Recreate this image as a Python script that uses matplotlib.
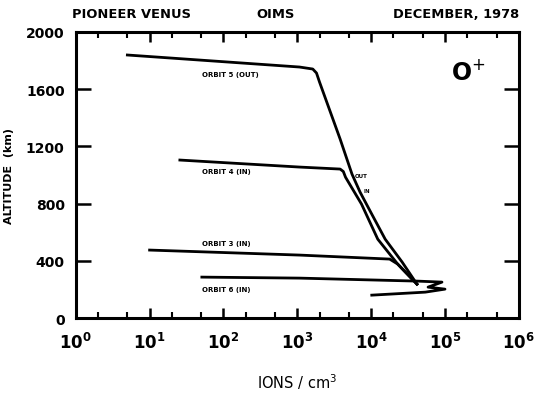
import matplotlib
matplotlib.use("Agg")
import matplotlib.pyplot as plt
import numpy as np
from matplotlib.ticker import FixedLocator, NullFormatter, FuncFormatter

# lectures sur la figure (ions/cm3, km)
orbit5_ions = [5.0, 1070, 1620, 1820, 2000, 3800, 5500, 7080, 1.02e4, 1.55e4, 2.63e4, 4.17e4]
orbit5_alt = [1839, 1755, 1741, 1713, 1650, 1252, 1007, 881, 727, 552, 392, 238]

orbit4_ions = [25.7, 1070, 3800, 4200, 4500, 7410, 1.23e4, 2.29e4, 4.17e4]
orbit4_alt = [1105, 1056, 1042, 1025, 985, 797, 552, 378, 238]

orbit3_ions = [10, 1070, 1.78e4, 2.29e4, 4.17e4]
orbit3_alt = [476, 441, 413, 378, 238]

orbit6_ions = [51, 1070, 4.27e4, 9.1e4, 5.9e4, 1.0e5, 5.4e4, 1.02e4]
orbit6_alt = [287, 280, 259, 252, 217, 203, 182, 161]

x_decades = [0, 1, 2, 3, 4, 5, 6]
y_ticks = [0, 400, 800, 1200, 1600, 2000]

fig = plt.figure(figsize=(5.45, 4.02), dpi=100, facecolor="w")
ax = fig.add_axes([0.139, 0.206, 0.813, 0.712])

for xs, ys in [(orbit5_ions, orbit5_alt), (orbit4_ions, orbit4_alt),
               (orbit3_ions, orbit3_alt), (orbit6_ions, orbit6_alt)]:
    ax.plot(xs, ys, color="k", lw=2, solid_joinstyle="round")

ax.set_xscale("log")
ax.set_xlim(1, 1e6)
ax.set_ylim(0, 2000)

major = [10.0 ** d for d in x_decades]
minor = [m * 10.0 ** d for d in x_decades[:-1] for m in (2, 5)]
ax.xaxis.set_major_locator(FixedLocator(major))
ax.xaxis.set_major_formatter(FuncFormatter(lambda v, p: r"$\mathbf{10^{%d}}$" % round(np.log10(v))))
ax.xaxis.set_minor_locator(FixedLocator(minor))
ax.xaxis.set_minor_formatter(NullFormatter())
ax.yaxis.set_major_locator(FixedLocator(y_ticks))
ax.set_yticklabels([str(v) for v in y_ticks], fontweight="bold", fontsize=10)

ax.tick_params(axis="x", which="major", direction="in", top=True, length=7, width=1.8,
               labelsize=12, pad=10)
ax.tick_params(axis="x", which="minor", direction="in", top=True, length=4, width=1.5)
ax.tick_params(axis="y", which="major", direction="in", right=True, length=11, width=1.8, pad=8)
for s in ax.spines.values():
    s.set_linewidth(2.2)

ax.set_xlabel("IONS / cm$^3$", fontsize=10.5, labelpad=14)
ax.set_ylabel("ALTITUDE  (km)", fontsize=8, fontweight="bold")
ax.yaxis.set_label_coords(-0.14, 0.5)

lbl = dict(fontsize=5, fontweight="bold", va="center")
ax.text(51, 1706, "ORBIT 5 (OUT)", **lbl)
ax.text(51, 1028, "ORBIT 4 (IN)", **lbl)
ax.text(51, 524, "ORBIT 3 (IN)", **lbl)
ax.text(51, 203, "ORBIT 6 (IN)", **lbl)
ax.text(6000, 1000, "OUT", fontsize=4, fontweight="bold", va="center")
ax.text(8000, 890, "IN", fontsize=4, fontweight="bold", va="center")
ax.text(1.2e5, 1725, "O$^{+}$", fontsize=17, fontweight="bold", va="center")

fig.text(0.132, 0.963, "PIONEER VENUS", fontsize=9.4, fontweight="bold", va="center")
fig.text(0.505, 0.963, "OIMS", fontsize=9.4, fontweight="bold", va="center", ha="center")
fig.text(0.952, 0.963, "DECEMBER, 1978", fontsize=9.4, fontweight="bold", va="center", ha="right")

fig.savefig("out.png", dpi=100)
